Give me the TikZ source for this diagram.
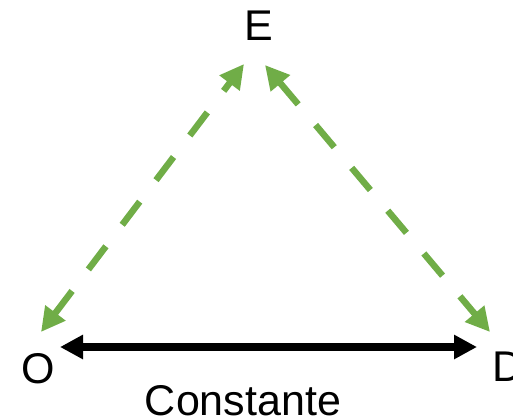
\documentclass[tikz,border=0pt]{standalone}
\usepackage{fontspec}
\setmainfont{Liberation Sans}
\usetikzlibrary{arrows.meta}
\definecolor{dashgreen}{HTML}{70AD47}
\tikzset{
  lbl/.style={font=\fontsize{43}{50}\selectfont, inner sep=0pt},
  greenarrow/.style={draw=dashgreen, line width=6.5pt, dash pattern=on 29pt off 27pt,
    {Triangle[length=24pt,width=24pt]}-{Triangle[length=24pt,width=24pt]}, shorten <=0pt, shorten >=0pt},
  blackarrow/.style={draw=black, line width=7.5pt,
    {Triangle[length=23pt,width=23pt]}-{Triangle[length=23pt,width=23pt]}}
}
\begin{document}
\begin{tikzpicture}[x=1pt,y=1pt]
\useasboundingbox (0,0) rectangle (513,416);
\node[lbl, anchor=base] (E) at (258.5,375) {E};
\node[lbl, anchor=base] (O) at (38.5,33) {O};
\node[lbl, anchor=base west] (D) at (492,35) {D};
\node[lbl, anchor=base] (C) at (243,1) {Constante};
\coordinate (el) at (244,352);
\coordinate (er) at (265,351);
\coordinate (ol) at (41,84);
\coordinate (dr) at (490,84);
\coordinate (ob) at (60,69);
\coordinate (db) at (477,69);
\draw[greenarrow] (ol) -- (el);
\draw[greenarrow] (er) -- (dr);
\draw[blackarrow] (ob) -- (db);
\end{tikzpicture}
\end{document}
